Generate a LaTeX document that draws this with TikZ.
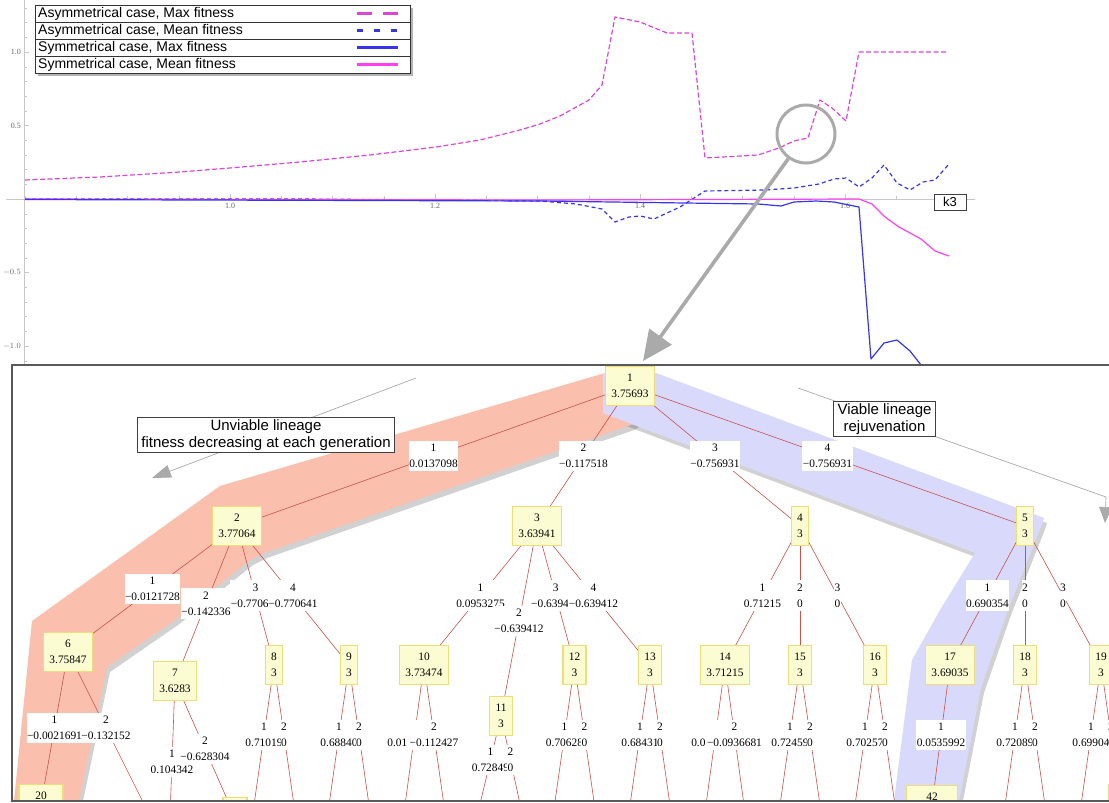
\documentclass[tikz,border=0pt]{standalone}
\usepackage{fontspec}
\setmainfont{Liberation Serif}
\newfontfamily\helv{Liberation Sans}
\usetikzlibrary{arrows.meta, positioning}
\definecolor{asymmax}{HTML}{DB46D6}
\definecolor{symmean}{HTML}{FF40F0}
\definecolor{fitblue}{HTML}{3535F0}
\definecolor{axisgray}{HTML}{C8C8C8}
\definecolor{salmon}{HTML}{FBBFAD}
\definecolor{lavender}{HTML}{D9D9FB}
\definecolor{nodefill}{HTML}{FCFCD3}
\definecolor{nodeedge}{HTML}{F1DC7A}
\definecolor{linkred}{HTML}{C9524C}
\definecolor{zoomgray}{HTML}{AAAAAA}
\pgfdeclarelayer{back}
\pgfdeclarelayer{bands}
\pgfdeclarelayer{links}
\pgfsetlayers{back,bands,links,main}
\newcommand{\treefont}{\fontsize{11.4}{16}\selectfont}
\newcommand{\salmonband}{(14,801) -- (32,621) -- (220,486) -- (605,373) -- (640,373) -- (640,420) -- (631,425) -- (264,553) -- (250,560) -- (175,620) -- (107,667) -- (79,801) -- cycle}
\newcommand{\lavenderband}{(603,373) -- (656,373) -- (1044,518) -- (1041,527) -- (1008,610) -- (981,688) -- (959,801) -- (894,801) -- (912,660) -- (940,610) -- (975,553) -- (634,425) -- (603,413) -- cycle}
\tikzset{
  vert/.style={draw=nodeedge, fill=nodefill, line width=1.1pt, align=center,
    inner xsep=5.8pt, inner ysep=7.3pt, font=\treefont},
  elabel/.style={fill=white, align=center, inner xsep=0.5pt, inner ysep=3.6pt, font=\treefont},
  link/.style={linkred, line width=0.6pt},
  note/.style={draw=black!75, fill=white, line width=0.8pt, align=center,
    font=\helv\fontsize{15}{17}\selectfont, inner xsep=4pt, inner ysep=2pt},
  legtxt/.style={anchor=west, inner sep=0pt, font=\helv\fontsize{14}{16}\selectfont},
  ticklbl/.style={text=black!60, inner sep=0pt, font=\fontsize{8}{9}\selectfont},
  curve/.style={line width=1.2pt, line join=round},
}
\begin{document}
\begin{tikzpicture}[x=1pt, y=-1pt]
\useasboundingbox (0,0) rectangle (1109,803);

\begin{pgfonlayer}{back}
  % axes of the fitness plot
  \draw[axisgray, line width=0.7pt] (6,199) -- (975,199);
  \draw[axisgray, line width=0.7pt] (24,0) -- (24,365);
  \foreach \i in {0,...,18}
    \draw[axisgray] ({25+51.25*\i},199) -- ++(0,-3);
  \foreach \i in {4,8,12,16}
    \draw[axisgray] ({25+51.25*\i},199) -- ++(0,-5);
  \foreach \v in {-11,...,13}
    \draw[axisgray] (24,{199-14.7*\v}) -- ++(3,0);
  \foreach \v in {-10,-5,5,10}
    \draw[axisgray] (24,{199-14.7*\v}) -- ++(5,0);
  \foreach \x/\t in {230/1.0,435/1.2,640/1.4,845/1.6}
    \node[ticklbl] at (\x,206) {\t};
  \foreach \y/\t in {52/1.0,126/0.5,272/$-0.5$,346/$-1.0$}
    \node[ticklbl, anchor=east] at (21,\y) {\t};

  % curves
  \draw[curve, asymmax, dash pattern=on 5pt off 2.5pt] plot coordinates {
    (25,180) (100,177) (180,172) (230,168) (300,162) (370,155) (436,147)
    (480,140) (520,130) (540,124) (560,116) (589,100) (602,85) (615,17)
    (640,22) (667,33) (692,33) (705,158) (758,155) (779,148) (794,141)
    (808,138) (820,100) (832,108) (846,121) (859,52) (948,52)};
  \draw[curve, fitblue, dash pattern=on 4pt off 3pt] plot coordinates {
    (25,199) (300,199) (450,200) (540,201) (576,204) (602,209) (615,222)
    (629,217) (640,216) (654,219) (680,207) (705,191) (765,190) (794,188)
    (819,184) (834,179) (846,178) (859,187) (872,178) (884,165) (897,183)
    (910,190) (923,182) (935,180) (949,164)};
  \draw[curve, symmean] plot coordinates {
    (25,199) (540,200) (859,199) (872,204) (885,217) (899,227) (921,239)
    (935,251) (949,256)};
  \draw[curve, fitblue] plot coordinates {
    (25,199.5) (540,201) (758,204) (781,206) (794,202) (816,201) (834,202)
    (859,207) (871,359) (884,343) (897,340) (910,351) (921,365) (930,380)};
  \node[draw=black!75, fill=white, font=\helv\fontsize{13}{15}\selectfont,
    inner sep=0pt, minimum width=32pt, minimum height=16pt] (k3) at (950,202) {k3};

  % legend
  \fill[black!50, opacity=0.6] (38,8) rectangle (413,76);
  \draw[black!80, fill=white] (35,5) rectangle (410,73);
  \foreach \y in {22,39,56}
    \draw[black!80] (35,\y) -- (410,\y);
  \node[legtxt] (leg1) at (38,13.5) {Asymmetrical case, Max fitness};
  \node[legtxt] (leg2) at (38,30.5) {Asymmetrical case, Mean fitness};
  \node[legtxt] (leg3) at (38,47.5) {Symmetrical case, Max fitness};
  \node[legtxt] (leg4) at (38,64.5) {Symmetrical case, Mean fitness};
  \draw[asymmax, line width=2.6pt, dash pattern=on 15pt off 11pt] (357,13.5) -- (398,13.5);
  \draw[fitblue, line width=2.6pt, dash pattern=on 6pt off 11pt] (357,30.5) -- (398,30.5);
  \draw[fitblue, line width=2.6pt] (357,47.5) -- (398,47.5);
  \draw[symmean, line width=2.6pt] (357,64.5) -- (398,64.5);

  % tree panel
  \fill[white] (12,365) rectangle (1125,801);
\end{pgfonlayer}

% lineage bands
\begin{pgfonlayer}{bands}
  \fill[black, opacity=0.18, shift={(3,5)}] \salmonband;
  \fill[black, opacity=0.18, shift={(3,5)}] \lavenderband;
  \fill[salmon] \salmonband;
  \fill[lavender] \lavenderband;
\end{pgfonlayer}

% zoom lens
\node[circle, draw=zoomgray, line width=3pt, minimum size=58pt, inner sep=0pt] (lens) at (806,134) {};
\coordinate (lenstip) at (643,361);
\draw[zoomgray, line width=3.6pt, -{Triangle[length=30pt, width=27pt]}] (lens) -- (lenstip);

% tree nodes
\node[vert] (n1) at (630,386) {1\\3.75693};
\node[vert] (n2) at (237,526) {2\\3.77064};
\node[vert] (n3) at (537,526) {3\\3.63941};
\node[vert] (n4) at (800,526) {4\\3};
\node[vert] (n5) at (1025,526) {5\\3};
\node[vert] (n6) at (68,652) {6\\3.75847};
\node[vert] (n7) at (175,681) {7\\3.6283};
\node[vert] (n8) at (274,665) {8\\3};
\node[vert] (n9) at (349,665) {9\\3};
\node[vert] (n10) at (424,665) {10\\3.73474};
\node[vert] (n11) at (501,716) {11\\3};
\node[vert] (n12) at (574.5,665) {12\\3};
\node[vert] (n13) at (650,665) {13\\3};
\node[vert] (n14) at (725,665) {14\\3.71215};
\node[vert] (n15) at (800,665) {15\\3};
\node[vert] (n16) at (875,665) {16\\3};
\node[vert] (n17) at (950,665) {17\\3.69035};
\node[vert] (n18) at (1025,665) {18\\3};
\node[vert] (n19) at (1101,665) {19\\3};
\node[vert, minimum width=44pt] (n20) at (41,804) {20\\\phantom{0}};
\node[vert, minimum width=24pt] (n7kid) at (235,817) {\phantom{00}\\\phantom{0}};
\node[vert, minimum width=51pt] (n42) at (932,805) {42\\\phantom{0}};
\node[vert, minimum width=51pt] (n19kid) at (1134,804) {\phantom{00}\\\phantom{0}};

% children below the frame
\coordinate (c6b) at (144,804);
\coordinate (c7a) at (169,843);
\foreach \n/\c in {8/274,9/349,12/574.5,13/650,15/800,16/875,18/1025,19/1101}{
  \coordinate (c\n a) at (\c-20,805);
  \coordinate (c\n b) at (\c+20,805);
}
\coordinate (c10a) at (405,805);
\coordinate (c10b) at (444,805);
\coordinate (c11a) at (480,804);
\coordinate (c11b) at (520,804);
\coordinate (c14a) at (706,805);
\coordinate (c14b) at (744,805);

% links
\begin{pgfonlayer}{links}
  \foreach \pa/\ch in {n1/n2,n1/n3,n1/n4,n1/n5,n2/n6,n2/n7,n2/n8,n2/n9,
      n3/n10,n3/n11,n3/n12,n3/n13,n4/n14,n4/n15,n4/n16,n5/n17,n5/n18,n5/n19,
      n6/n20,n6/c6b,n7/c7a,n7/n7kid,n8/c8a,n8/c8b,n9/c9a,n9/c9b,n10/c10a,n10/c10b,
      n11/c11a,n11/c11b,n12/c12a,n12/c12b,n13/c13a,n13/c13b,n14/c14a,n14/c14b,
      n15/c15a,n15/c15b,n16/c16a,n16/c16b,n17/n42,n18/c18a,n18/c18b,n19/c19a,n19/c19b}
    \draw[link] (\pa.center) -- (\ch.center);
\end{pgfonlayer}

% link labels
\foreach \pa/\ch/\kid/\val in {
    n1/n2/1/0.0137098, n1/n3/2/−0.117518, n1/n4/3/−0.756931, n1/n5/4/−0.756931,
    n2/n6/1/−0.0121728, n2/n7/2/−0.142336, n2/n8/3/−0.770641, n2/n9/4/−0.770641,
    n3/n10/1/0.0953275, n3/n11/2/−0.639412, n3/n12/3/−0.639412, n3/n13/4/−0.639412,
    n4/n14/1/0.71215, n4/n15/2/0, n4/n16/3/0,
    n5/n17/1/0.690354, n5/n18/2/0, n5/n19/3/0,
    n6/n20/1/−0.0021691, n6/c6b/2/−0.132152,
    n7/c7a/1/0.104342, n7/n7kid/2/−0.628304,
    n8/c8a/1/0.71019, n8/c8b/2/0, n9/c9a/1/0.68840, n9/c9b/2/0,
    n10/c10a/1/0.01\phantom{000000}, n10/c10b/2/−0.112427,
    n11/c11a/1/0.72849, n11/c11b/2/0, n12/c12a/1/0.70628, n12/c12b/2/0,
    n13/c13a/1/0.68431, n13/c13b/2/0,
    n14/c14a/1/0.0\phantom{000000}, n14/c14b/2/−0.0936681,
    n15/c15a/1/0.72459, n15/c15b/2/0, n16/c16a/1/0.70257, n16/c16b/2/0,
    n17/n42/1/0.0535992, n18/c18a/1/0.72089, n18/c18b/2/0,
    n19/c19a/1/0.69904, n19/c19b/2/0}
  \path (\pa.center) -- node[elabel] {\kid\\\val} (\ch.center);

% lineage notes
\coordinate (unv0) at (416,378);
\coordinate (unv1) at (152,478);
\draw[zoomgray, line width=0.7pt, -{Triangle[length=19pt, width=13pt]}] (unv0) -- (unv1);
\node[note] (unviable) at (266,435) {Unviable lineage\\fitness decreasing at each generation};
\coordinate (via0) at (798,388);
\coordinate (via1) at (1106,497);
\coordinate (via2) at (1105,523);
\draw[zoomgray, line width=0.7pt, -{Triangle[length=16pt, width=13pt]}] (via0) -- (via1) -- (via2);
\node[note] (viable) at (884.5,419) {Viable lineage\\rejuvenation};

% frame of the tree panel
\fill[white] (0,801.7) rectangle (1109,803);
\draw[black!65, line width=1.3pt] (1125,365) -- (12,365) -- (12,801) -- (1125,801);
\end{tikzpicture}
\end{document}
